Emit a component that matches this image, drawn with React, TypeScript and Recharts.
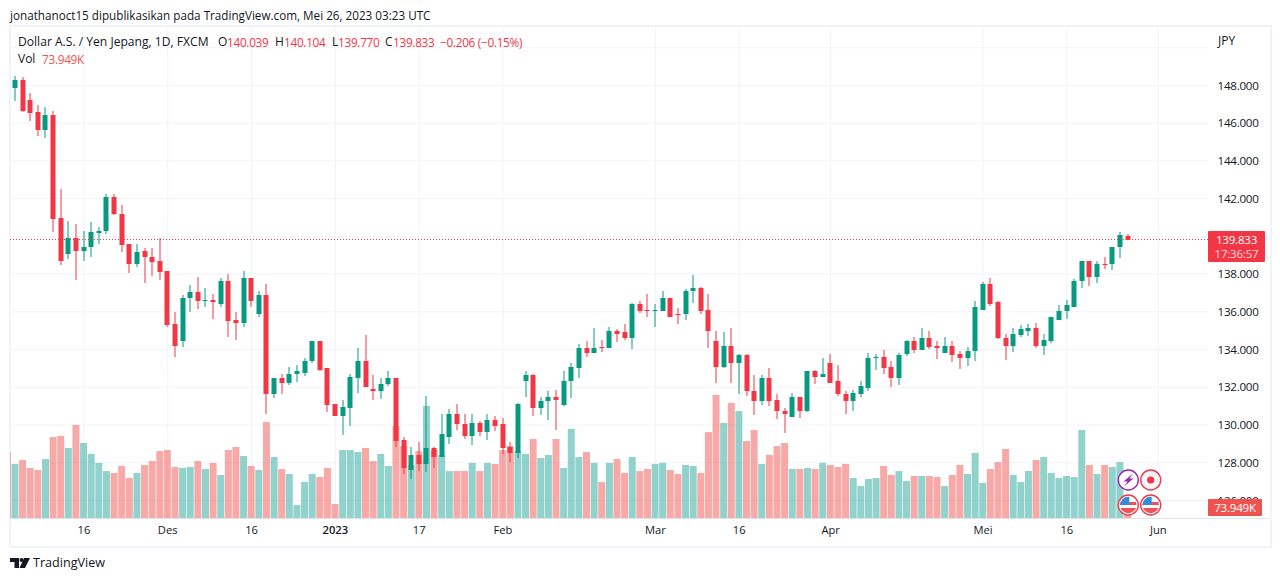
import React from "react";
import { ComposedChart, Bar, XAxis, YAxis, CartesianGrid, ReferenceLine, Cell } from "recharts";

const FONT = "'Open Sans', sans-serif";
const INK = "#131722";
const UP = "#089981";
const DOWN = "#f23645";
const VOL_UP = "#26a69a";
const VOL_DOWN = "#ef5350";

// One slot per session. The first slot is the partly visible session at the left edge (volume only).
const opens: (number | null)[] = [null,
147.84,148.27,147.21,146.57,145.62,146.41,140.95,139.04,139.89,139.2,139.41,140.16,140.26,142.11,141.21,139.57,138.56,139.2,138.93,138.67,
138.14,135.33,134.43,136.71,137.03,136.55,136.65,136.44,137.66,135.59,135.43,137.77,135.91,136.87,131.62,132.47,132.25,132.68,132.78,133.37,
134.43,133,131.09,130.5,130.93,132.52,133.37,131.93,131.83,132.15,132.47,129.23,127.64,128.44,127.96,128.81,128.33,129.39,130.61,130.08,
129.44,130.13,129.65,130.29,130.03,128.86,128.54,132.36,132.63,130.93,131.25,131.51,131.04,132.31,133.05,134.11,133.84,134.16,134.11,134.96,
134.91,134.64,136.39,136.12,136.07,136.07,136.76,135.91,135.86,137.08,137.29,136.12,134.48,133.1,134.2,133.31,133.69,131.78,131.25,132.47,
131.35,130.77,130.45,131.51,130.72,132.84,132.57,133.31,132.36,131.67,131.25,131.67,131.99,133.53,133.63,133.1,132.47,133.74,134.43,134,
134.64,134.2,133.84,134.2,133.74,133.58,133.9,136.12,137.45,136.5,134.64,134.2,134.75,135.01,135.17,134.2,134.48,135.59,136.02,136.28,
137.61,138.72,137.87,138.56,138.51,139.41,140.039];
const highs: (number | null)[] = [null,
148.48,148.42,147.58,146.94,146.83,146.62,142.49,140.79,140.63,140.31,140.74,140.52,142.27,142.22,141.64,139.57,139.57,139.36,139.36,139.89,
138.14,135.97,136.87,137.4,137.87,137.24,136.92,137.82,137.98,135.97,138.19,137.82,137.13,137.45,132.52,132.68,133.1,133.16,133.58,134.48,
134.43,133.05,131.09,131.35,132.68,134.06,134.75,132.63,132.47,132.84,132.47,129.39,128.86,129.12,131.56,128.86,130.61,130.87,131.09,130.56,
130.61,130.24,130.56,130.5,130.4,129.12,131.19,132.89,132.68,131.51,131.83,131.88,132.89,133.31,134.32,134.43,135.12,134.53,135.22,135.07,
135.33,136.49,136.55,136.92,136.44,137.08,136.76,136.18,137.19,137.93,137.34,136.97,135.01,134.91,135.12,133.79,133.74,132.63,132.63,133,
131.62,130.93,131.72,131.51,132.89,132.94,133.58,133.74,133.16,131.83,131.88,132.36,133.84,133.79,134,133.37,133.84,134.53,134.69,135.12,
134.96,134.48,134.69,134.48,133.95,134.16,136.55,137.56,137.77,136.6,134.85,135.12,135.28,135.33,135.43,134.85,135.75,136.34,136.65,137.72,
138.72,138.72,138.67,138.88,139.46,140.21,140.104];
const lows: (number | null)[] = [null,
147.15,146.57,146.09,145.3,145.19,140.21,138.46,138.77,137.66,138.72,138.88,139.62,140.16,141.11,139.15,138.03,138.35,137.51,137.87,137.66,
135.17,133.58,134.11,135.97,136.18,136.23,135.59,136.3,134.64,134.48,135.22,136.28,135.75,130.56,131.46,131.62,132.15,132.25,132.63,133.31,
132.84,130.72,130.5,129.5,129.92,131.67,131.99,131.3,131.35,132.04,128.81,127.43,127.16,127.59,127.54,127.75,128.33,129.02,129.71,129.23,
128.97,129.44,129.18,129.71,128.49,128.06,128.28,131.51,130.45,130.56,130.29,129.76,131.04,131.46,132.52,133.58,133.84,133.9,134.11,134.37,
134.48,134.06,135.91,135.7,135.22,136.02,135.75,135.33,135.54,136.44,135.91,134.11,132.25,133,132.2,131.67,131.51,130.5,131.04,130.98,
130.29,129.6,130.45,130.4,130.72,132.2,132.57,132.2,131.51,130.61,130.77,131.51,131.83,132.94,132.73,131.99,132.15,133.69,133.84,133.95,
134,133.53,133.84,133.37,133,133.16,133.37,136.12,136.28,134.59,133.47,133.84,134.64,134.69,134.11,133.74,134.37,135.59,135.65,136.28,
137.29,137.4,137.51,138.24,138.24,138.83,139.77];
const closes: (number | null)[] = [null,
148.27,146.62,146.52,145.62,146.41,140.9,138.67,139.89,139.2,139.46,140.21,140.31,142.11,141.16,139.52,138.56,139.15,138.88,138.62,138.09,
135.28,134.2,136.76,137.03,136.55,136.65,136.5,137.66,135.54,135.43,137.77,136.6,136.87,131.62,132.47,132.25,132.73,132.84,133.42,134.43,
132.94,131.04,130.5,130.98,132.57,133.37,132.04,131.83,132.2,132.47,129.18,127.75,128.44,127.96,128.81,128.33,129.5,130.61,130.03,129.44,
130.13,129.65,130.29,129.97,128.81,128.54,131.14,132.63,130.93,131.3,131.51,131.35,132.36,133.1,134.11,133.84,134.11,134.11,134.96,134.85,
134.64,136.44,136.07,136.07,136.12,136.76,135.75,135.86,137.13,137.29,136.07,135.01,133.1,134.2,133.31,133.69,131.78,131.25,132.47,131.3,
130.72,130.61,131.51,130.72,132.84,132.57,132.73,132.25,131.62,131.25,131.72,132.09,133.58,133.63,133.05,132.47,133.69,134.43,134,134.64,
134.16,134.06,134.2,133.69,133.58,133.95,136.28,137.45,136.44,134.59,134.2,134.8,135.07,135.17,134.2,134.53,135.75,136.07,136.34,137.66,
138.72,137.87,138.56,138.51,139.46,140.05,139.833];
const volumes: number[] = [455,
373,400,345,331,407,559,566,483,642,518,442,380,324,311,359,276,311,366,393,462,
469,352,345,352,393,338,380,297,469,490,428,359,331,662,421,338,304,90,248,304,
283,345,97,469,469,455,483,393,442,359,635,497,366,462,773,469,435,324,324,324,
380,324,380,373,469,497,462,442,545,414,435,545,345,614,421,455,380,248,380,407,
311,421,324,338,373,380,331,304,366,359,311,593,849,656,794,738,531,607,373,435,
497,518,338,338,345,338,380,366,352,373,276,221,269,276,359,297,324,255,290,290,
290,283,221,297,366,304,449,242,338,386,476,297,248,324,400,421,311,276,290,283,
607,366,304,366,352,386,73.949];

const axisTicksX: number[] = [10, 21, 32, 43, 54, 65, 85, 96, 108, 128, 139, 151];
const axisLabelsX: string[] = ["16", "Des", "16", "2023", "17", "Feb", "Mar", "16", "Apr", "Mei", "16", "Jun"];
const priceTicks: number[] = [126, 128, 130, 132, 134, 136, 138, 142, 144, 146, 148];
const priceGrid: number[] = [...priceTicks, 140, 150];
const lastPrice = 139.833;
const lastVolume = "73.949K";
const countdown = "17:36:57";

const rows = volumes.map((volume, slot) => ({
  slot,
  volume,
  open: opens[slot],
  close: closes[slot],
  range: highs[slot] === null ? null : [lows[slot], highs[slot]],
}));

const Candle = (p: any) => {
  const { x, y, width, height, payload } = p;
  if (payload.open === null || !height) return null;
  const [low, high] = payload.range;
  const perUnit = height / (high - low);
  const top = Math.round(y + (high - Math.max(payload.open, payload.close)) * perUnit);
  const bottom = Math.round(y + (high - Math.min(payload.open, payload.close)) * perUnit);
  const color = payload.close >= payload.open ? UP : DOWN;
  const cx = Math.round(x + width / 2);
  return (
    <g>
      <rect x={cx - 0.5} y={Math.round(y)} width={1} height={Math.round(height)} fill={color} />
      <rect x={cx - 2.5} y={top} width={5} height={Math.max(bottom - top, 1)} fill={color} />
    </g>
  );
};

const TimeTick = (p: any) => {
  const label = axisLabelsX[axisTicksX.indexOf(p.payload.value)];
  return (
    <text x={p.x} y={p.y + 10} textAnchor="middle" fill={INK} fontSize={11.2} fontFamily={FONT} fontWeight={label === "2023" ? 600 : 400}>
      {label}
    </text>
  );
};

const Flag = ({ cx, cy }: { cx: number; cy: number }) => {
  const id = `flag${Math.round(cx)}${cy}`;
  return (
    <g>
      <clipPath id={id}><circle cx={cx} cy={cy} r={8.2} /></clipPath>
      <circle cx={cx} cy={cy} r={10} fill="#fff" stroke={DOWN} strokeWidth={1.4} />
      <g clipPath={`url(#${id})`}>
        <rect x={cx - 9} y={cy - 9} width={18} height={18} fill="#fff" />
        <rect x={cx - 9} y={cy - 3} width={18} height={3} fill="#f0505a" />
        <rect x={cx - 9} y={cy + 3} width={18} height={6} fill="#f0505a" />
        <rect x={cx - 9} y={cy - 9} width={10} height={9} fill="#2f8ce0" />
      </g>
    </g>
  );
};

const Icons = () => (
  <svg width={1280} height={581} style={{ position: "absolute", left: 0, top: 0, pointerEvents: "none" }}>
    <circle cx={1128.3} cy={480} r={10} fill="#fff" stroke="#9c27b0" strokeWidth={1.4} />
    <path d="M1133 473.5 L1123.5 481.5 L1127.5 481.5 L1124 486.5 L1133.5 478.5 L1129.5 478.5 Z" fill="#9c27b0" />
    <circle cx={1150.7} cy={480} r={10} fill="#f0f3fa" stroke={DOWN} strokeWidth={1.4} />
    <circle cx={1150.7} cy={480} r={3.6} fill={DOWN} />
    <Flag cx={1128.3} cy={505} />
    <Flag cx={1150.7} cy={505} />
    <g fill={INK}>
      <path d="M10 558 H19 V568 H14.5 V562 H10 Z" />
      <circle cx={21.5} cy={560} r={2} />
      <path d="M24 558 H30 L25 568 H19.5 Z" />
    </g>
  </svg>
);

const Plain = ({ left, top, children, size = 12, color = INK, spacing = 0 }: any) => (
  <div style={{ position: "absolute", left, top, fontFamily: FONT, fontSize: size, color, letterSpacing: spacing, whiteSpace: "nowrap", lineHeight: "16px" }}>{children}</div>
);

const Tag = ({ top, width, height, color, lines }: any) => (
  <div style={{ position: "absolute", left: 1208, top, width, height, background: color, borderRadius: 1, fontFamily: FONT, fontSize: 11.6, letterSpacing: -0.25, textAlign: "center", lineHeight: "14px", paddingTop: 1.5, boxSizing: "border-box" }}>
    {lines.map((l: any) => (
      <div key={l.text} style={{ color: l.color }}>{l.text}</div>
    ))}
  </div>
);

export default function App() {
  return (
    <div style={{ position: "absolute", left: 0, top: 0, width: 1280, height: 581, background: "#fff", overflow: "hidden" }}>
      <div style={{ position: "absolute", left: 9, top: 25, width: 1259, height: 519, border: "2px solid #f0f3fa" }} />
      <div style={{ position: "absolute", left: 10, top: 518, width: 1260, height: 1, background: "#e0e3eb" }} />
      <ComposedChart
        width={1280}
        height={581}
        data={rows}
        margin={{ left: 10, right: 0, top: 27, bottom: 35 }}
        style={{ position: "absolute", left: 0, top: 0 }}
      >
        <XAxis
          xAxisId="time"
          dataKey="slot"
          type="number"
          domain={[0.304, 157.52]}
          allowDataOverflow
          ticks={axisTicksX}
          interval={0}
          height={28}
          axisLine={false}
          tickLine={false}
          tickMargin={0}
          tick={TimeTick}
        />
        <XAxis xAxisId="timeVol" dataKey="slot" type="number" domain={[0.304, 157.52]} allowDataOverflow hide />
        <YAxis
          yAxisId="price"
          orientation="right"
          width={72}
          domain={[125.075, 151.095]}
          allowDataOverflow
          ticks={priceTicks}
          interval={0}
          axisLine={false}
          tickLine={false}
          tickMargin={3.5}
          tick={{ fill: INK, fontSize: 11.6, fontFamily: FONT, letterSpacing: -0.25 }}
          tickFormatter={(v: number) => v.toFixed(3)}
        />
        <YAxis yAxisId="vol" hide domain={[0, 3388]} allowDataOverflow />
        <CartesianGrid
          xAxisId="time"
          yAxisId="price"
          stroke="#f0f3fa"
          horizontalValues={priceGrid}
          verticalValues={axisTicksX}
          syncWithTicks={false}
        />
        <Bar xAxisId="timeVol" yAxisId="vol" dataKey="volume" barSize={7} isAnimationActive={false} fillOpacity={0.5}>
          {rows.map((r) => (
            <Cell
              key={r.slot}
              fill={r.open === null || (r.close as number) < (r.open as number) ? VOL_DOWN : VOL_UP}
            />
          ))}
        </Bar>
        <Bar xAxisId="time" yAxisId="price" dataKey="range" barSize={7} shape={Candle} isAnimationActive={false} />
        <ReferenceLine xAxisId="time" yAxisId="price" y={lastPrice} stroke={DOWN} strokeDasharray="1 2" />
      </ComposedChart>
      <Icons />
      <Tag top={231} width={57} height={31} color={DOWN} lines={[{ text: lastPrice.toFixed(3), color: "#fff" }, { text: countdown, color: "#fcd5d9" }]} />
      <Tag top={499} width={54} height={17} color={VOL_DOWN} lines={[{ text: lastVolume, color: "#fff" }]} />
      <Plain left={10} top={6.5} size={11.7}>jonathanoct15 dipublikasikan pada TradingView.com, Mei 26, 2023 03:23 UTC</Plain>
      <Plain left={18} top={34} size={12.1}>Dollar A.S. / Yen Jepang, 1D, FXCM</Plain>
      <Plain left={218} top={34}>O</Plain>
      <Plain left={227} top={34} size={11.8} spacing={-0.3} color={DOWN}>140.039</Plain>
      <Plain left={275} top={34}>H</Plain>
      <Plain left={284} top={34} size={11.8} spacing={-0.3} color={DOWN}>140.104</Plain>
      <Plain left={332} top={34}>L</Plain>
      <Plain left={338} top={34} size={11.8} spacing={-0.3} color={DOWN}>139.770</Plain>
      <Plain left={385} top={34}>C</Plain>
      <Plain left={393} top={34} size={11.8} spacing={-0.3} color={DOWN}>139.833</Plain>
      <Plain left={440} top={34} size={11.8} spacing={-0.3} color={DOWN}>−0.206 (−0.15%)</Plain>
      <Plain left={18} top={51}>Vol</Plain>
      <Plain left={42} top={51} size={11.8} spacing={-0.3} color={VOL_DOWN}>{lastVolume}</Plain>
      <Plain left={1218} top={33}>JPY</Plain>
      <Plain left={33} top={555} size={12.6}>TradingView</Plain>
    </div>
  );
}
